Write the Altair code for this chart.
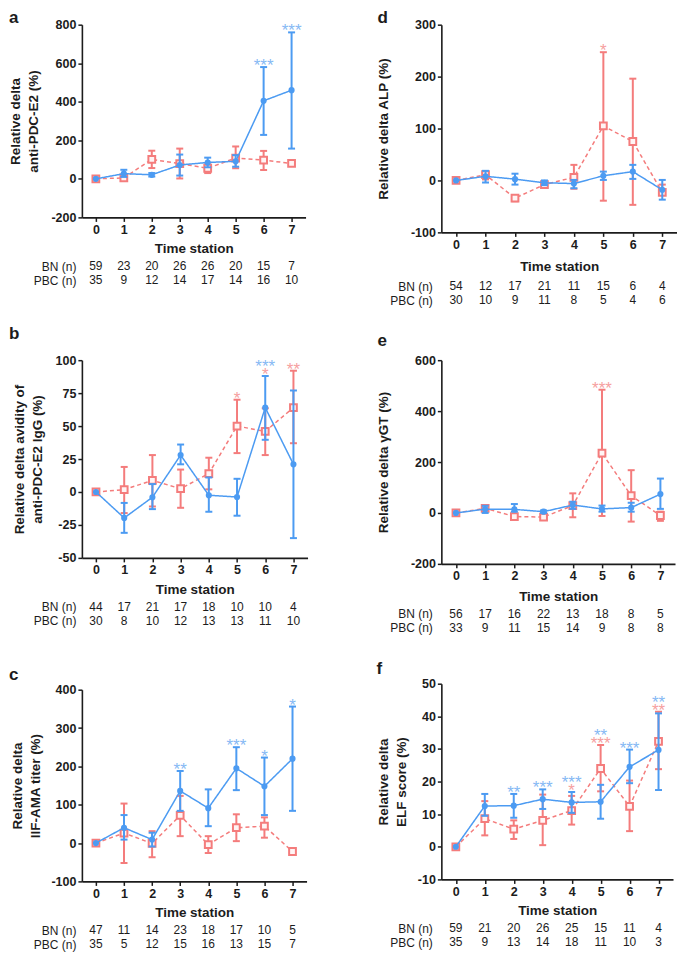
import altair as alt
import pandas as pd

FONT = "Liberation Sans"
BLUE = "#4c9bf2"
RED = "#f47c7c"
BLUE_STAR = "#86b9f4"
RED_STAR = "#f6a0a0"
INK = "#1c1c1c"

STATIONS = [0, 1, 2, 3, 4, 5, 6, 7]

# ---- panel a : anti-PDC-E2
A_BN = [0, 27, 21, 72, 85, 91, 405, 460]
A_BN_LO = [0, 10, 12, 17, 60, 63, 228, 157]
A_BN_HI = [0, 47, 30, 126, 110, 123, 580, 760]
A_PBC = [0, 5, 101, 79, 55, 108, 97, 80]
A_PBC_LO = [0, -2, 56, 2, 30, 55, 46, 68]
A_PBC_HI = [0, 12, 146, 157, 75, 168, 145, 95]
A_STARS = [(6, "BN", "***"), (7, "BN", "***")]
A_N_BN = [59, 23, 20, 26, 26, 20, 15, 7]
A_N_PBC = [35, 9, 12, 14, 17, 14, 16, 10]

# ---- panel b : avidity
B_BN = [0, -19.7, -4, 28, -2.5, -3.8, 64, 21]
B_BN_LO = [0, -31, -13, 21, -15, -18, 39.6, -35]
B_BN_HI = [0, -8.3, 6, 36, 11, 10, 88, 77]
B_PBC = [0, 1.8, 8.8, 2.5, 14, 50, 46, 64]
B_PBC_LO = [0, -16, -11, -12, 2, 29.5, 28, 37]
B_PBC_HI = [0, 19, 28, 17, 26, 70, 63.5, 92]
B_STARS = [(5, "PBC", "*"), (6, "BN", "***"), (6, "PBC", "*"), (7, "PBC", "**")]
B_N_BN = [44, 17, 21, 17, 18, 10, 10, 4]
B_N_PBC = [30, 8, 10, 12, 13, 13, 11, 10]

# ---- panel c : IIF-AMA titer
C_BN = [0, 40, 9, 136, 91, 195, 148, 220]
C_BN_LO = [0, 9, -9, 84, 44, 138, 73, 84]
C_BN_HI = [0, 73, 27, 188, 140, 250, 223, 356]
C_PBC = [0, 26, -1, 72, -4, 40, 44, -22]
C_PBC_LO = [0, -52, -37, 18, -26, 5, 14, -28]
C_PBC_HI = [0, 103, 31, 123, 18, 75, 67, -15]
C_STARS = [(3, "BN", "**"), (5, "BN", "***"), (6, "BN", "*"), (7, "BN", "*")]
C_N_BN = [47, 11, 14, 23, 18, 17, 10, 5]
C_N_PBC = [35, 5, 12, 15, 16, 13, 15, 7]

# ---- panel d : ALP
D_BN = [0, 8, 2.5, -4.5, -6, 9, 17, -18]
D_BN_LO = [0, -4, -8, -9, -15, 1, 3, -37]
D_BN_HI = [0, 18.5, 13, 0, 1, 17, 30, 1]
D_PBC = [0, 11, -34, -8, 6, 105, 75, -23]
D_PBC_LO = [0, 2, -40, -12, -16, -39, -47, -27]
D_PBC_HI = [0, 18, -28, -4, 30, 247, 196, -8]
D_STARS = [(5, "PBC", "*")]
D_N_BN = [54, 12, 17, 21, 11, 15, 6, 4]
D_N_PBC = [30, 10, 9, 11, 8, 5, 4, 6]

# ---- panel e : gammaGT
E_BN = [0, 15, 14, 5, 31, 16, 21, 74]
E_BN_LO = [0, 0, 5, 0, 16, 5, 5, 16]
E_BN_HI = [0, 28, 35, 10, 44, 29, 40, 135]
E_PBC = [0, 18, -14, -16, 29, 235, 68, -10]
E_PBC_LO = [0, 8, -20, -20, -17, -12, -34, -31]
E_PBC_HI = [0, 28, -5, -10, 77, 484, 168, 5]
E_STARS = [(5, "PBC", "***")]
E_N_BN = [56, 17, 16, 22, 13, 18, 8, 5]
E_N_PBC = [33, 9, 11, 15, 14, 9, 8, 8]

# ---- panel f : ELF score
F_BN = [0, 12.5, 12.6, 14.6, 13.6, 13.8, 24.5, 29.7]
F_BN_LO = [0, 9.5, 8.9, 11.6, 10.4, 8.6, 19.5, 17.4]
F_BN_HI = [0, 16.2, 16.2, 17.6, 16.8, 19, 29.8, 40.9]
F_PBC = [0, 8.6, 5.4, 8.1, 11.1, 24, 12.4, 32.3]
F_PBC_LO = [0, 3.5, 2.4, 0.5, 6.8, 17, 4.8, 23.8]
F_PBC_HI = [0, 14, 8.1, 16, 15.6, 31.2, 20.3, 41.4]
F_STARS = [(2, "BN", "**"), (3, "BN", "***"), (4, "BN", "***"), (4, "PBC", "*"),
           (5, "BN", "**"), (5, "PBC", "***"), (6, "BN", "***"), (7, "BN", "**"), (7, "PBC", "**")]
F_N_BN = [59, 21, 20, 26, 25, 15, 11, 4]
F_N_PBC = [35, 9, 13, 14, 18, 11, 10, 3]


def panel(letter, ytitle, ydomain, ystep, bn, bn_lo, bn_hi, pbc, pbc_lo, pbc_hi,
          stars, n_bn, n_pbc, width, height, ytitle_pad, letter_dx, letter_offset,
          letter_dy=0, xtitle_pad=6, gap=4, row_label_pad=6):
    df = pd.DataFrame({
        "station": STATIONS * 2,
        "group": ["BN"] * 8 + ["PBC"] * 8,
        "mean": bn + pbc,
        "lo": bn_lo + pbc_lo,
        "hi": bn_hi + pbc_hi,
    })
    xscale = alt.Scale(domain=[-0.5, 7.5], nice=False, zero=False)
    yscale = alt.Scale(domain=ydomain, nice=False, zero=False)
    yvals = list(range(ydomain[0], ydomain[1] + 1, ystep))
    xaxis = alt.Axis(values=STATIONS, title="Time station", titlePadding=xtitle_pad)
    yaxis = alt.Axis(values=yvals, title=ytitle, titlePadding=ytitle_pad,
                     labelExpr="'' + datum.value")

    def X():
        return alt.X("station:Q", scale=xscale, axis=xaxis)

    def Y(field):
        return alt.Y(f"{field}:Q", scale=yscale, axis=yaxis)

    layers = []
    for g, color, dash in (("PBC", RED, [4, 3]), ("BN", BLUE, [1, 0])):
        src = alt.Chart(df).transform_filter(f"datum.group == '{g}'")
        err = src.transform_filter("datum.station > 0")
        layers.append(err.mark_rule(color=color, strokeWidth=2).encode(
            x=X(), y=Y("lo"), y2="hi:Q"))
        layers.append(err.mark_tick(color=color, thickness=2, size=7, orient="horizontal",
                                    opacity=1).encode(x=X(), y=Y("lo")))
        layers.append(err.mark_tick(color=color, thickness=2, size=7, orient="horizontal",
                                    opacity=1).encode(x=X(), y=Y("hi")))
        layers.append(src.mark_line(color=color, strokeWidth=1.5, strokeDash=dash).encode(
            x=X(), y=Y("mean")))
        if g == "PBC":
            layers.append(src.mark_point(shape="square", filled=True, fill="#fff4f4",
                                         stroke=color, strokeWidth=2, size=46,
                                         opacity=1).encode(x=X(), y=Y("mean")))
        else:
            layers.append(src.mark_circle(color=color, size=38, opacity=1).encode(
                x=X(), y=Y("mean")))

    # significance stars, stacked above the higher whisker of the station
    rows = []
    pbc_star_st = {s for s, g, _ in stars if g == "PBC"}
    for s, g, lab in stars:
        anchor = max(bn_hi[s], pbc_hi[s])
        row = 1 if (g == "BN" and s in pbc_star_st) else 0
        rows.append({"station": s, "group": g, "label": lab, "y": anchor, "row": row})
    sdf = pd.DataFrame(rows)
    for r in (0, 1):
        sub = sdf[sdf["row"] == r]
        if len(sub) == 0:
            continue
        layers.append(alt.Chart(sub).mark_text(font=FONT, fontSize=17, baseline="alphabetic",
                                               dy=4 - 8 * r).encode(
            x=X(), y=Y("y"), text="label:N",
            color=alt.Color("group:N", scale=alt.Scale(domain=["BN", "PBC"],
                                                       range=[BLUE_STAR, RED_STAR]),
                            legend=None)))

    plot = alt.layer(*layers).properties(
        width=width, height=height,
        title=alt.TitleParams(text=letter, anchor="start", frame="group", dx=letter_dx,
                              dy=letter_dy, offset=letter_offset, fontSize=17, font=FONT,
                              fontWeight="bold", color=INK))

    tdf = pd.DataFrame({
        "station": STATIONS * 2,
        "row": ["BN (n)"] * 8 + ["PBC (n)"] * 8,
        "n": n_bn + n_pbc,
    })
    table = alt.Chart(tdf).mark_text(font=FONT, fontSize=12, color=INK).encode(
        x=alt.X("station:Q", scale=xscale, axis=None),
        y=alt.Y("row:N", sort=["BN (n)", "PBC (n)"],
                axis=alt.Axis(title=None, domain=False, ticks=False, labelFontSize=12,
                              labelFontWeight="normal", labelPadding=row_label_pad)),
        text="n:Q",
    ).properties(width=width, height=28)

    return alt.vconcat(plot, table, spacing=gap)


pa = panel("a", ["Relative delta", "anti-PDC-E2 (%)"], [-200, 800], 200,
           A_BN, A_BN_LO, A_BN_HI, A_PBC, A_PBC_LO, A_PBC_HI, A_STARS, A_N_BN, A_N_PBC,
           width=224, height=193, ytitle_pad=10, letter_dx=-73, letter_offset=0, letter_dy=8)
pb = panel("b", ["Relative delta avidity of", "anti-PDC-E2 IgG (%)"], [-50, 100], 25,
           B_BN, B_BN_LO, B_BN_HI, B_PBC, B_PBC_LO, B_PBC_HI, B_STARS, B_N_BN, B_N_PBC,
           width=226, height=198, ytitle_pad=11, letter_dx=-73, letter_offset=11)
pc = panel("c", ["Relative delta", "IIF-AMA titer (%)"], [-100, 400], 100,
           C_BN, C_BN_LO, C_BN_HI, C_PBC, C_PBC_LO, C_PBC_HI, C_STARS, C_N_BN, C_N_PBC,
           width=225, height=192, ytitle_pad=8, letter_dx=-73, letter_offset=0)

pd_ = panel("d", "Relative delta ALP (%)", [-100, 300], 100,
            D_BN, D_BN_LO, D_BN_HI, D_PBC, D_PBC_LO, D_PBC_HI, D_STARS, D_N_BN, D_N_PBC,
            width=236, height=208, ytitle_pad=20, letter_dx=-64, letter_offset=0, letter_dy=8,
            xtitle_pad=9, gap=6, row_label_pad=9)
pe = panel("e", "Relative delta γGT (%)", [-200, 600], 200,
           E_BN, E_BN_LO, E_BN_HI, E_PBC, E_PBC_LO, E_PBC_HI, E_STARS, E_N_BN, E_N_PBC,
           width=234, height=204, ytitle_pad=20, letter_dx=-64, letter_offset=4,
           xtitle_pad=7, row_label_pad=9)
pf = panel("f", ["Relative delta", "ELF score (%)"], [-10, 50], 10,
           F_BN, F_BN_LO, F_BN_HI, F_PBC, F_PBC_LO, F_PBC_HI, F_STARS, F_N_BN, F_N_PBC,
           width=232, height=196, ytitle_pad=9, letter_dx=-65, letter_offset=0,
           row_label_pad=9)

left = alt.vconcat(pa, pb, pc, spacing=38)
right = alt.vconcat(pd_, pe, pf, spacing=25)

chart = alt.hconcat(left, right, spacing=68).properties(
    padding=0,
    background="white",
).configure(padding=0).configure_view(stroke=None).configure_axis(
    grid=False, domainColor=INK, domainWidth=1.6, tickColor=INK, tickWidth=1.5, tickSize=4,
    labelFont=FONT, labelFontSize=12.5, labelFontWeight="bold", labelColor=INK, labelPadding=2,
    titleFont=FONT, titleFontSize=13.5, titleFontWeight="bold", titleColor=INK,
    titleLineHeight=18,
)

chart.save("out.html", embed_options={"renderer": "svg", "actions": False})
